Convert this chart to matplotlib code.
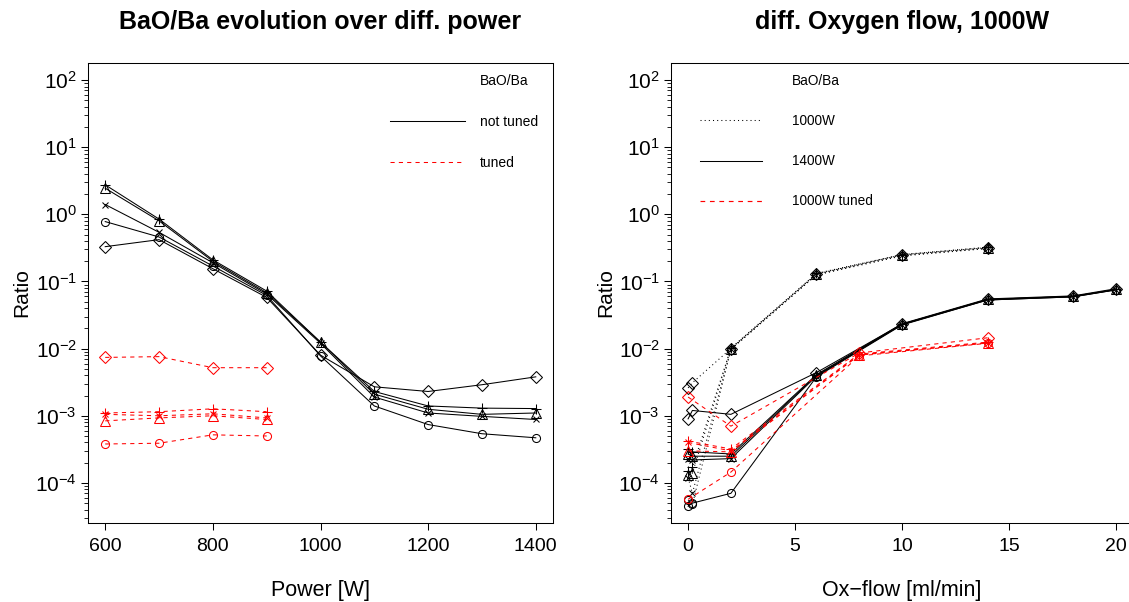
import matplotlib
matplotlib.use("Agg")
import matplotlib.pyplot as plt
from matplotlib.lines import Line2D
from matplotlib.ticker import LogLocator, FixedLocator, NullFormatter, FuncFormatter
import numpy as np

plt.rcParams['font.family'] = ['Liberation Sans', 'DejaVu Sans']
plt.rcParams['mathtext.fontset'] = 'custom'
plt.rcParams['mathtext.rm'] = 'Liberation Sans'

# ── Left panel: ratio vs power ────────────────────────────────────────────────
power = [600, 700, 800, 900, 1000, 1100, 1200, 1300, 1400]
nt_circle   = [0.78, 0.46, 0.17, 0.062, 0.0078, 0.0014, 0.00074, 0.00054, 0.00047]
nt_triangle = [2.45, 0.80, 0.20, 0.068, 0.0125, 0.0021, 0.00125, 0.00105, 0.00110]
nt_plus     = [2.75, 0.85, 0.21, 0.072, 0.0125, 0.0023, 0.00140, 0.00130, 0.00128]
nt_cross    = [1.40, 0.54, 0.19, 0.065, 0.0120, 0.0019, 0.00110, 0.00098, 0.00088]
nt_diamond  = [0.33, 0.42, 0.155, 0.058, 0.0080, 0.0027, 0.00230, 0.00290, 0.00380]

power_tuned = [600, 700, 800, 900]
t_circle   = [0.00038, 0.00039, 0.00052, 0.00050]
t_triangle = [0.00084, 0.00093, 0.00100, 0.00088]
t_plus     = [0.00110, 0.00115, 0.00127, 0.00115]
t_cross    = [0.00105, 0.00100, 0.00107, 0.00093]
t_diamond  = [0.0074, 0.0076, 0.0052, 0.0052]

# ── Right panel: ratio vs oxygen flow ─────────────────────────────────────────
flow_1000 = [0, 0.2, 2, 6, 10, 14]
w1000_circle   = [5.5e-5, 4.8e-5, 0.0097, 0.125, 0.240, 0.310]
w1000_triangle = [1.3e-4, 1.4e-4, 0.0100, 0.130, 0.250, 0.320]
w1000_plus     = [1.5e-4, 1.7e-4, 0.0102, 0.132, 0.252, 0.325]
w1000_cross    = [1.2e-4, 7.0e-5, 0.0098, 0.127, 0.245, 0.312]
w1000_diamond  = [2.6e-3, 3.1e-3, 0.0100, 0.130, 0.250, 0.320]

flow_1400 = [0, 0.2, 2, 6, 10, 14, 18, 20]
w1400_circle   = [4.5e-5, 5.0e-5, 7.0e-5, 0.0038, 0.0225, 0.053, 0.059, 0.075]
w1400_triangle = [2.7e-4, 2.5e-4, 2.5e-4, 0.0040, 0.0230, 0.054, 0.060, 0.076]
w1400_plus     = [3.2e-4, 2.9e-4, 2.7e-4, 0.0041, 0.0235, 0.055, 0.061, 0.078]
w1400_cross    = [2.3e-4, 2.2e-4, 2.3e-4, 0.0039, 0.0228, 0.053, 0.059, 0.075]
w1400_diamond  = [9.0e-4, 1.2e-3, 1.05e-3, 0.0044, 0.0232, 0.054, 0.060, 0.076]

flow_tuned = [0, 2, 8, 14]
wt_circle   = [5.7e-5, 1.45e-4, 0.0078, 0.0120]
wt_triangle = [3.0e-4, 2.9e-4, 0.0080, 0.0122]
wt_plus     = [4.2e-4, 3.2e-4, 0.0083, 0.0125]
wt_cross    = [4.0e-4, 3.0e-4, 0.0081, 0.0121]
wt_diamond  = [1.9e-3, 7.0e-4, 0.0086, 0.0145]

# marker style per species (R pch 1..5)
MARKERS = [('o', 5.8), ('^', 6.5), ('+', 6.8), ('x', 5.0), ('D', 5.8)]
LW = 0.75
DOTTED = (0, (1, 3))
DASHED = (0, (4, 4))

fig = plt.figure(figsize=(11.29, 6.02), dpi=100)
W, H = 1129, 602
ax0 = fig.add_axes([88 / W, 1 - 523 / H, 465 / W, 460 / H])
ax1 = fig.add_axes([671 / W, 1 - 523 / H, 462 / W, 460 / H])


def draw(ax, x, series, color, ls='-'):
    for (m, ms), y in zip(MARKERS, series):
        ax.plot(x, y, color=color, lw=LW, linestyle=ls, marker=m, markersize=ms,
                markerfacecolor='none', markeredgecolor=color, markeredgewidth=LW)


draw(ax0, power, [nt_circle, nt_triangle, nt_plus, nt_cross, nt_diamond], 'black')
draw(ax0, power_tuned, [t_circle, t_triangle, t_plus, t_cross, t_diamond], 'red', DASHED)

draw(ax1, flow_1000, [w1000_circle, w1000_triangle, w1000_plus, w1000_cross, w1000_diamond],
     'black', DOTTED)
draw(ax1, flow_1400, [w1400_circle, w1400_triangle, w1400_plus, w1400_cross, w1400_diamond],
     'black')
draw(ax1, flow_tuned, [wt_circle, wt_triangle, wt_plus, wt_cross, wt_diamond], 'red', DASHED)

ylo, yhi = 10 ** -4.597, 10 ** 2.254


def log_label(v, pos):
    e = int(round(np.log10(v)))
    return r'$\mathregular{10^{%d}}$' % e if e >= 0 else r'$\mathregular{10^{-%d}}$' % (-e)


for ax in (ax0, ax1):
    ax.set_yscale('log')
    ax.set_ylim(ylo, yhi)
    ax.yaxis.set_major_locator(FixedLocator([1e-4, 1e-3, 1e-2, 1e-1, 1, 10, 100]))
    ax.yaxis.set_major_formatter(FuncFormatter(log_label))
    ax.yaxis.set_minor_locator(LogLocator(base=10, subs=np.arange(2, 10), numticks=20))
    ax.yaxis.set_minor_formatter(NullFormatter())
    ax.tick_params(axis='both', which='major', length=5, width=0.75)
    ax.tick_params(axis='x', which='major', labelsize=14, pad=6)
    ax.tick_params(axis='y', which='major', labelsize=15, pad=3)
    ax.tick_params(axis='y', which='minor', length=3, width=0.6)
    for s in ax.spines.values():
        s.set_linewidth(0.75)
    ax.set_ylabel('Ratio', fontsize=15)
    ax.yaxis.set_label_coords(-0.121, 0.5)

ax0.set_xlim(568, 1432)
ax0.set_xticks([600, 800, 1000, 1200, 1400])
ax1.set_xlim(-0.8, 20.8)
ax1.set_xticks([0, 5, 10, 15, 20])

ax0.set_xlabel('Power [W]', fontsize=15.5)
ax1.set_xlabel('Ox\u2212flow [ml/min]', fontsize=15.5)
for ax in (ax0, ax1):
    ax.xaxis.set_label_coords(0.5, -0.146)
    ax.xaxis.label.set_va('center')

ax0.set_title('BaO/Ba evolution over diff. power', fontsize=18, fontweight='bold',
              y=1.089, va='center', pad=0)
ax1.set_title('diff. Oxygen flow, 1000W', fontsize=18, fontweight='bold',
              y=1.089, va='center', pad=0)

# legends (separate handle objects for each legend)
leg0_handles = [Line2D([], [], linestyle='none'),
                Line2D([], [], color='black', lw=LW),
                Line2D([], [], color='red', lw=LW, linestyle=DASHED)]
leg1_handles = [Line2D([], [], linestyle='none'),
                Line2D([], [], color='black', lw=LW, linestyle=DOTTED),
                Line2D([], [], color='black', lw=LW),
                Line2D([], [], color='#ff0000', lw=0.85, linestyle=DASHED)]

leg0 = ax0.legend(leg0_handles, ['BaO/Ba', 'not tuned', 'tuned'],
                  loc='upper left', bbox_to_anchor=(0.649, 0.976), frameon=False, fontsize=10,
                  handlelength=5.4, handletextpad=1.08, labelspacing=1.93,
                  borderpad=0, borderaxespad=0)
leg1 = ax1.legend(leg1_handles, ['BaO/Ba', '1000W', '1400W', '1000W tuned'],
                  loc='upper left', bbox_to_anchor=(0.063, 0.976), frameon=False, fontsize=9.8,
                  handlelength=4.56, handletextpad=2.2, labelspacing=1.92,
                  borderpad=0, borderaxespad=0)

fig.savefig('out.png', dpi=100)
